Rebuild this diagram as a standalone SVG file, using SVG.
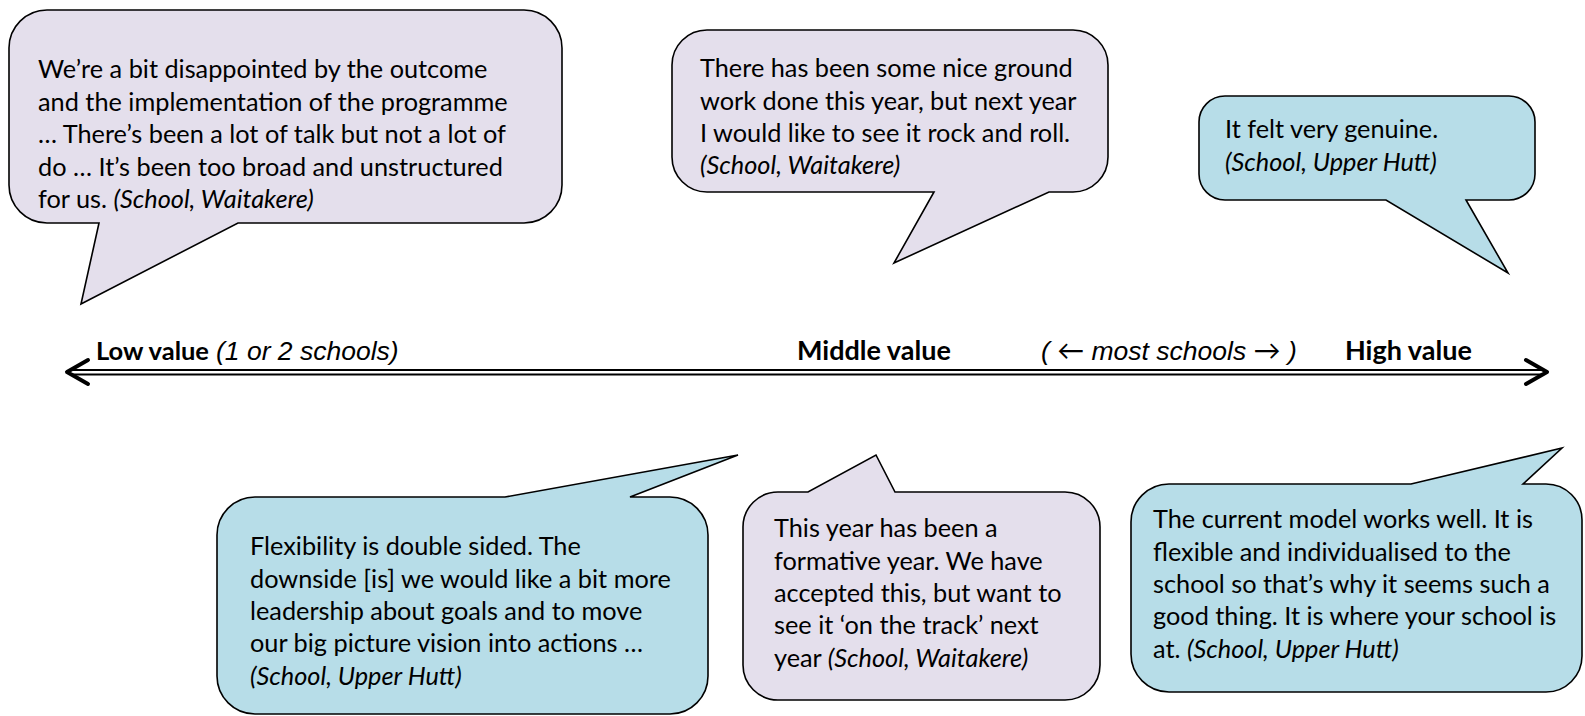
<svg xmlns="http://www.w3.org/2000/svg" width="1585" height="716" viewBox="0 0 1585 716">
<style>
.p{fill:#E4DFEC;stroke:#000;stroke-width:1.6;stroke-linejoin:miter}
.b{fill:#B7DDE8;stroke:#000;stroke-width:1.6;stroke-linejoin:miter}
text{font-family:Lato,"Liberation Sans",sans-serif;font-size:25.3px;fill:#000}
.lab{font-size:27px}
.li{font-family:"Liberation Sans",Arial,sans-serif;font-size:26.5px;font-style:italic}
.ar{font-family:Lato,sans-serif;font-size:27px}
.i{font-style:italic}
.bd{font-weight:bold}
.ln{stroke:#000;fill:none}
.hd{stroke:#000;fill:none;stroke-width:4;stroke-linecap:round;stroke-linejoin:round}
</style>
<rect width="1585" height="716" fill="#fff"/>
<g id="connectors">
<line class="ln" x1="70" y1="370" x2="1544" y2="370" stroke-width="1.8"/>
<line class="ln" x1="70" y1="374.5" x2="1544" y2="374.5" stroke-width="1.8"/>
<polyline class="hd" points="88,360 67,372 88,384"/>
<polyline class="hd" points="1526,360 1547,372 1526,384"/>
</g>
<g id="labels">
<text x="96" y="360" class="lab bd" style="font-size:25.5px">Low value</text>
<text x="216" y="360" class="li">(1 or 2 schools)</text>
<text x="797" y="360" class="lab bd">Middle value</text>
<text x="1041" y="360" class="li">( <tspan class="ar">←</tspan> most schools <tspan class="ar">→</tspan> )</text>
<text x="1345" y="360" class="lab bd">High value</text>
</g>
<g id="quote-low">
<path class="p" d="M47,10 H524 A38,38 0 0 1 562,48 V185 A38,38 0 0 1 524,223 H238 L81,304 L99,223 H47 A38,38 0 0 1 9,185 V48 A38,38 0 0 1 47,10 Z"/>
<text x="38" y="78">We’re a bit disappointed by the outcome</text>
<text x="38" y="110.5">and the implementation of the programme</text>
<text x="38" y="143">… There’s been a lot of talk but not a lot of</text>
<text x="38" y="175.5">do … It’s been too broad and unstructured</text>
<text x="38" y="208">for us. <tspan class="i">(School, Waitakere)</tspan></text>
</g>
<g id="quote-middle-top">
<path class="p" d="M707,30 H1073 A35,35 0 0 1 1108,65 V157 A35,35 0 0 1 1073,192 H1049 L894,263 L934,192 H707 A35,35 0 0 1 672,157 V65 A35,35 0 0 1 707,30 Z"/>
<text x="700" y="77">There has been some nice ground</text>
<text x="700" y="109.5">work done this year, but next year</text>
<text x="700" y="142">I would like to see it rock and roll.</text>
<text x="700" y="174" class="i">(School, Waitakere)</text>
</g>
<g id="quote-high-top">
<path class="b" d="M1225,96 H1509 A26,26 0 0 1 1535,122 V174 A26,26 0 0 1 1509,200 H1466 L1508,273 L1386,200 H1225 A26,26 0 0 1 1199,174 V122 A26,26 0 0 1 1225,96 Z"/>
<text x="1225" y="138">It felt very genuine.</text>
<text x="1225" y="170.5" class="i">(School, Upper Hutt)</text>
</g>
<g id="quote-low-bottom">
<path class="b" d="M255,497 H505 L738,455 L630,497 H670 A38,38 0 0 1 708,535 V676 A38,38 0 0 1 670,714 H255 A38,38 0 0 1 217,676 V535 A38,38 0 0 1 255,497 Z"/>
<text x="250" y="555">Flexibility is double sided. The</text>
<text x="250" y="587.5">downside [is] we would like a bit more</text>
<text x="250" y="620">leadership about goals and to move</text>
<text x="250" y="652">our big picture vision into actions …</text>
<text x="250" y="684.5" class="i">(School, Upper Hutt)</text>
</g>
<g id="quote-middle-bottom">
<path class="p" d="M778,492 H808 L876,455 L895,492 H1065 A35,35 0 0 1 1100,527 V665 A35,35 0 0 1 1065,700 H778 A35,35 0 0 1 743,665 V527 A35,35 0 0 1 778,492 Z"/>
<text x="774" y="537">This year has been a</text>
<text x="774" y="569.5">formative year. We have</text>
<text x="774" y="602">accepted this, but want to</text>
<text x="774" y="634">see it ‘on the track’ next</text>
<text x="774" y="667">year <tspan class="i">(School, Waitakere)</tspan></text>
</g>
<g id="quote-high-bottom">
<path class="b" d="M1169,484 H1411 L1562,448 L1523,484 H1546 A36,36 0 0 1 1582,520 V656 A36,36 0 0 1 1546,692 H1169 A38,38 0 0 1 1131,654 V522 A38,38 0 0 1 1169,484 Z"/>
<text x="1153" y="528">The current model works well. It is</text>
<text x="1153" y="560.5">flexible and individualised to the</text>
<text x="1153" y="593">school so that’s why it seems such a</text>
<text x="1153" y="625">good thing. It is where your school is</text>
<text x="1153" y="658">at. <tspan class="i">(School, Upper Hutt)</tspan></text>
</g>
</svg>
